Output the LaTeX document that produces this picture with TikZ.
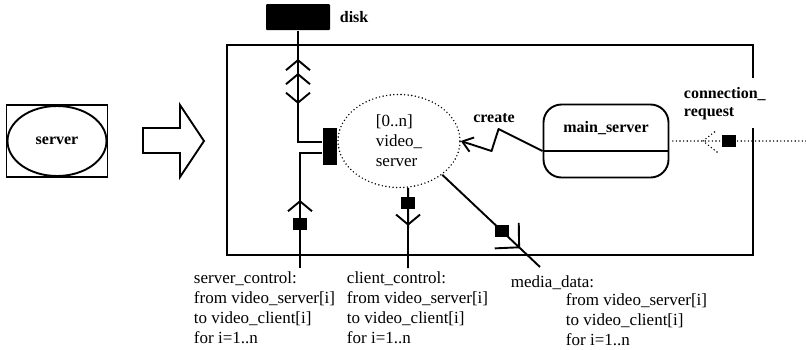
\documentclass[tikz,border=0pt]{standalone}
\usepackage{fontspec}
\setmainfont{Liberation Serif}
\usetikzlibrary{arrows.meta,calc,positioning,shapes.geometric,decorations.markings}

\begin{document}
\begin{tikzpicture}[x=1pt,y=-1pt,line width=1.9pt,
  lbl/.style={font=\fontsize{16}{18}\selectfont\bfseries,inner sep=0pt},
  txt/.style={font=\fontsize{17}{20}\selectfont,align=left,inner sep=0pt},
  sq/.style={fill=black,inner sep=0pt,minimum width=14pt,minimum height=12pt},
  dotline/.style={line width=1.6pt,line cap=round,dash pattern=on 0pt off 3.6pt},
  chev/.tip={Straight Barb[length=10pt,width=24pt]},
  bigchev/.tip={Straight Barb[length=17pt,width=35pt]}]
  \useasboundingbox (0,0) rectangle (806,349);

  % the component on its own, and the arrow to its inside
  \node[draw,minimum width=101pt,minimum height=72pt] (srvbox) at (57,141) {};
  \node[draw,ellipse,minimum width=99pt,minimum height=70pt,lbl] (srv) at (57,141) {server};
  \draw[line join=miter] (143,128) -- ++(37,0) -- ++(0,-23) -- (204,141)
    -- (180,177) -- ++(0,-24) -- (143,153) -- cycle;

  % frame, open on the right for the request port
  \draw (753,78) |- (227,45) |- (753,255) -- (753,128);

  \node[fill=black,rounded corners=1pt,minimum width=64pt,minimum height=26pt] (disk) at (298,17) {};
  \node[lbl,right=8pt of disk] (disklbl) {disk};

  \node[draw,ellipse,dotline,minimum width=122pt,minimum height=93pt,txt] (vs) at (399,141)
    {[0..n]\\video\_\\server};
  \node[fill=black,inner sep=0pt,minimum width=14pt,minimum height=37pt] (vsport) at (330,146) {};

  \node[draw,rounded corners=18pt,minimum width=125pt,minimum height=73pt,lbl,
        text height=10pt,text depth=28pt] (ms) at (606,141) {main\_server};
  \draw ($(ms.west)+(0,10)$) -- ($(ms.east)+(0,10)$);

  \coordinate (scEnd) at (300,268);
  \coordinate (ccEnd) at (408,268);
  \coordinate (mdEnd) at (540,267);
  \coordinate (crEnd) at (806,141);

  % disk link
  \draw[postaction=decorate,decoration={markings,
      mark=at position 28pt with {\arrowreversed{chev}},
      mark=at position 42pt with {\arrowreversed{chev}},
      mark=at position 73pt with {\arrow{chev}}}]
    (disk.south) |- ($(vsport.west)+(0,-4)$);
  % server_control
  \draw[postaction=decorate,decoration={markings,
      mark=at position 44pt with {\node[sq] (scsq) {};},
      mark=at position 68pt with {\arrow{chev}}}]
    (scEnd) |- ($(vsport.west)+(0,7)$);
  % client_control
  \draw[postaction=decorate,decoration={markings,
      mark=at position 15pt with {\node[sq] (ccsq) {};},
      mark=at position 38pt with {\arrow{chev}}}]
    (vs.281) -- (ccEnd);
  % media_data
  \draw[postaction=decorate,decoration={markings,
      mark=at position 82pt with {\node[sq] (mdsq) {};},
      mark=at position 107pt with {\arrow{bigchev}}}]
    (vs.-38) -- (mdEnd);
  % create
  \draw[line join=round,-{Straight Barb[length=10pt,width=15pt]}]
    ($(ms.west)+(0,10)$) -- ++(-44,-22) -- ++(-7,22) -- (vs.east);
  \node[lbl] (createlbl) at (494,118) {create};
  % connection_request
  \draw[dotline,postaction=decorate,decoration={markings,
      mark=at position 77pt with {\node[sq] (crsq) {};},
      mark=at position 103pt with {\draw[dotline] (-14pt,11pt) -- (0pt,0pt) -- (-14pt,-11pt);}}]
    (crEnd) -- (ms.east);
  \node[lbl,align=left,anchor=west] (crlbl) at (683,104) {connection\_\\request};

  \node[txt,anchor=north west] (sclbl) at (193,271)
    {server\_control:\\from video\_server[i]\\to video\_client[i]\\for i=1..n};
  \node[txt,anchor=north west] (cclbl) at (346,271)
    {client\_control:\\from video\_server[i]\\to video\_client[i]\\for i=1..n};
  \node[txt,anchor=north west] (mdlbl) at (510,275) {media\_data:};
  \node[txt,anchor=north west] (mdtxt) at (565,293)
    {from video\_server[i]\\to video\_client[i]\\for i=1..n};
\end{tikzpicture}
\end{document}
